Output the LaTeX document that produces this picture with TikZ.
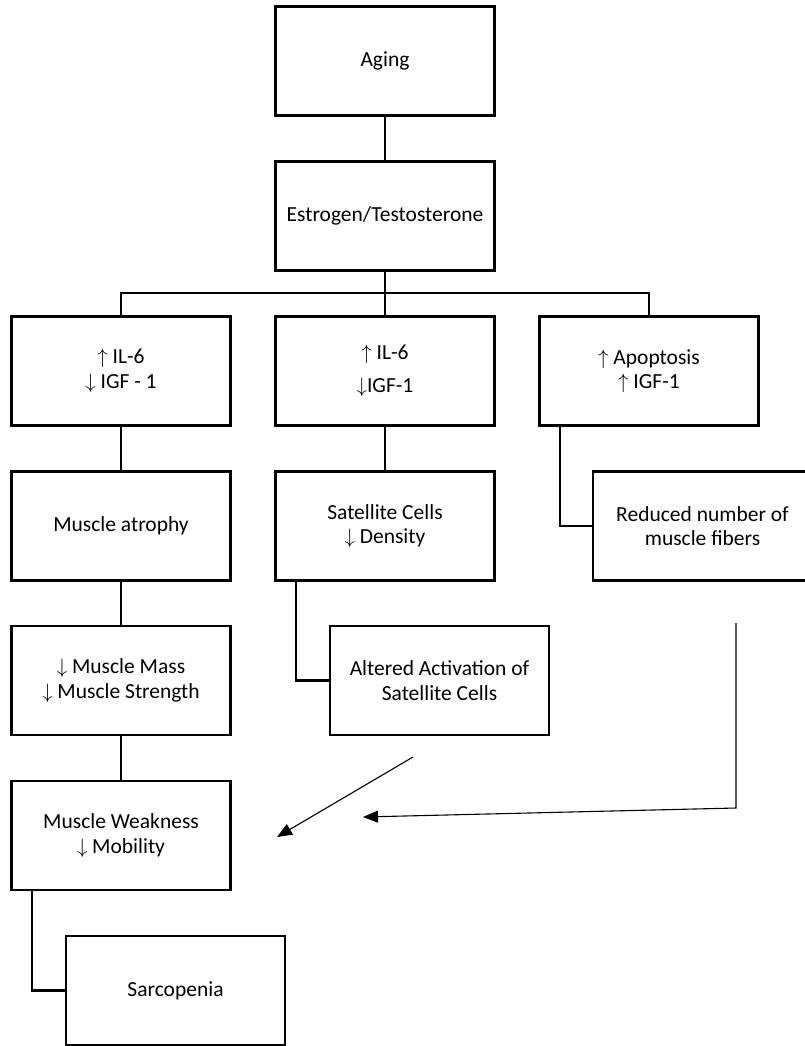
\documentclass[tikz,border=0pt]{standalone}
\usepackage{fontspec}
\setmainfont{Carlito}
\usepackage{tikz}
\usetikzlibrary{arrows.meta}
\tikzset{
  chart/.style={x=1pt, y=-1pt},
  sbox/.style={draw, line width=2.6pt, minimum width=219pt, minimum height=109pt,
    align=center, inner sep=2pt, font=\fontsize{21.5}{24.5}\selectfont},
  link/.style={line width=2.2pt},
  flow/.style={line width=1.1pt, -{Triangle[length=15pt,width=12pt]}},
}
\newcommand{\up}{$\uparrow$}
\newcommand{\dn}{$\downarrow$}

\begin{document}
\begin{tikzpicture}[chart]
  \useasboundingbox (0,0) rectangle (804,1046);
  % top chain
  \node[sbox] (aging) at (385,61) {Aging};
  \node[sbox] (hormone) at (385,216) {Estrogen/Testosterone};
  % first row
  \node[sbox] (ilA) at (121,371) {\up\ IL-6\\\dn\ IGF - 1};
  \node[sbox] (ilB) at (385,371) {\up\ IL-6\\[8pt]\dn IGF-1};
  \node[sbox] (apop) at (649,371) {\up\ Apoptosis\\\up\ IGF-1};
  % second row
  \node[sbox] (atrophy) at (121,526) {Muscle atrophy};
  \node[sbox] (satdens) at (385,526) {Satellite Cells\\\dn\ Density};
  \node[sbox] (fibers) at (702.5,526) {Reduced number of\\muscle fibers};
  % third row
  \node[sbox] (mass) at (121,680.5) {\dn\ Muscle Mass\\\dn\ Muscle Strength};
  \node[sbox] (altered) at (439.5,680.5) {Altered Activation of\\Satellite Cells};
  % bottom
  \node[sbox] (weak) at (121,835.5) {Muscle Weakness\\\dn\ Mobility};
  \node[sbox] (sarco) at (175.5,990.5) {Sarcopenia};
  % connectors
  \coordinate (bus) at (385,293);
  \draw[link] (aging) -- (hormone);
  \draw[link] (hormone) -- (ilB);
  \draw[link] (ilA.north) |- (bus) -| (apop.north);
  \draw[link] (ilA) -- (atrophy);
  \draw[link] (ilB) -- (satdens);
  \draw[link] ([xshift=22pt]apop.south west) |- (fibers.west);
  \draw[link] (atrophy) -- (mass);
  \draw[link] ([xshift=22pt]satdens.south west) |- (altered.west);
  \draw[link] (mass) -- (weak);
  \draw[link] ([xshift=22pt]weak.south west) |- (sarco.west);
  % loose arrows
  \coordinate (altfoot) at (413,757);
  \coordinate (alttip) at (277,837);
  \coordinate (fibtop) at (736,623);
  \coordinate (fibbend) at (736,808);
  \coordinate (fibtip) at (363,817);
  \draw[flow] (altfoot) -- (alttip);
  \draw[flow] (fibtop) -- (fibbend) -- (fibtip);
\end{tikzpicture}
\end{document}
